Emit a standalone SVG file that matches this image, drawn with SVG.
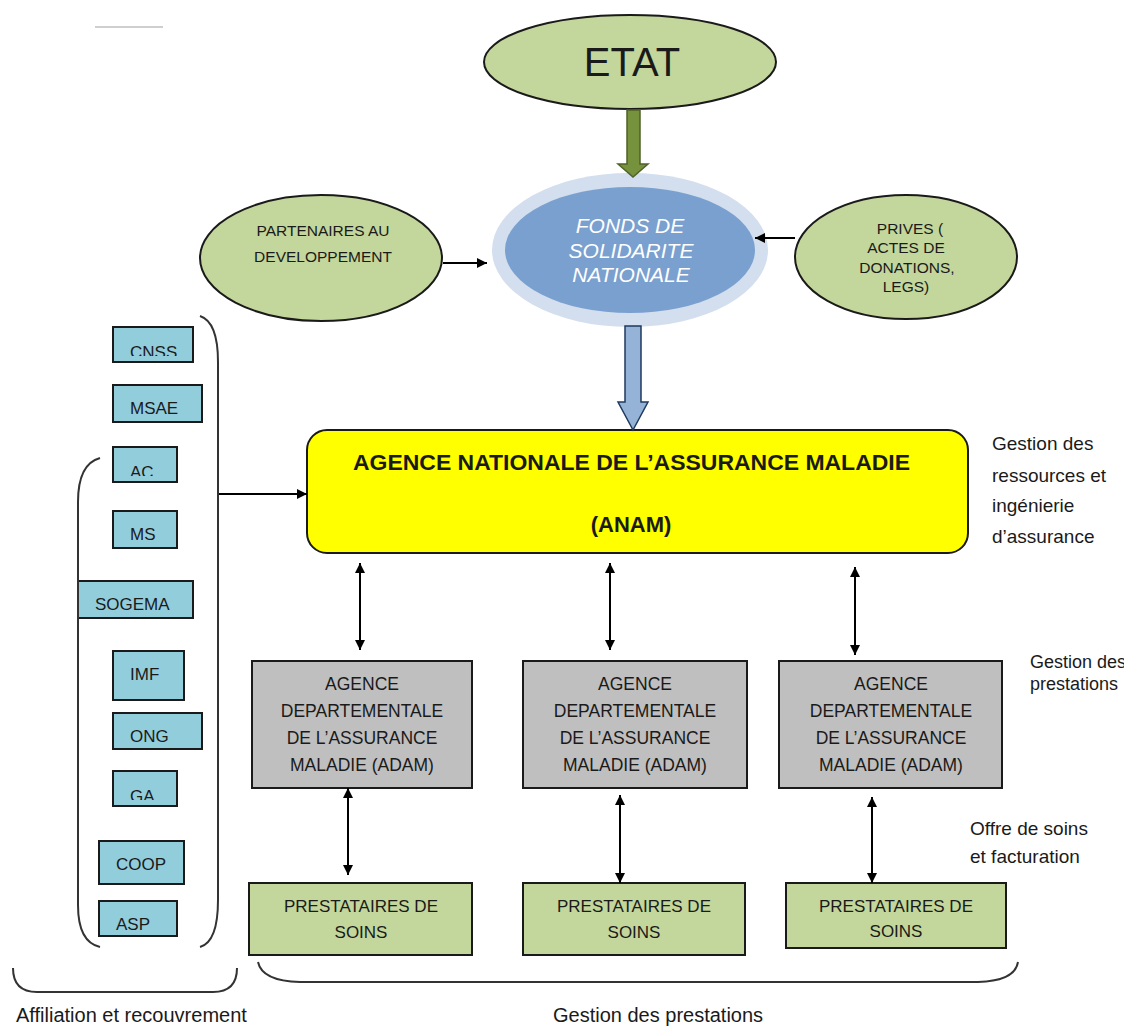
<svg xmlns="http://www.w3.org/2000/svg" width="1124" height="1027" viewBox="0 0 1124 1027">
<style>
.t{font-family:"Liberation Sans",Arial,sans-serif;fill:#1a1a1a}
.ell{fill:#c3d69b;stroke:#1a1a1a;stroke-width:2}
.lb{fill:#92cddc;stroke:#1a1a1a;stroke-width:2}
.adam{fill:#bfbfbf;stroke:#1a1a1a;stroke-width:2}
.pr{fill:#c3d69b;stroke:#1a1a1a;stroke-width:2}
.c{stroke:#000;stroke-width:2;fill:none}
.br{stroke:#333;stroke-width:2;fill:none}
</style>
<defs>
<marker id="ah" viewBox="0 0 10 10" refX="10" refY="5" markerWidth="10" markerHeight="10" markerUnits="userSpaceOnUse" orient="auto-start-reverse"><path d="M0,0 L10,5 L0,10 z" fill="#000"/></marker>
<clipPath id="cCNSS"><rect x="113" y="327" width="80" height="29"/></clipPath>
<clipPath id="cAC"><rect x="113" y="447" width="64" height="29"/></clipPath>
<clipPath id="cGA"><rect x="113" y="771" width="64" height="29"/></clipPath>
</defs>
<rect width="1124" height="1027" fill="#fff"/>
<line x1="95" y1="27" x2="163" y2="27" stroke="#cfcfcf" stroke-width="2"/>

<g id="etat">
<ellipse class="ell" cx="630" cy="62" rx="146" ry="47"/>
<text class="t" x="632" y="76" font-size="40" text-anchor="middle">ETAT</text>
</g>

<g id="fsn">
<ellipse cx="630" cy="250" rx="138" ry="77" fill="#d3deee"/>
<ellipse cx="630" cy="250" rx="125" ry="63" fill="#7aa0cf"/>
<g font-family="Liberation Sans,Arial,sans-serif" font-style="italic" font-size="21" fill="#fff" text-anchor="middle">
<text x="630" y="233">FONDS DE</text>
<text x="631" y="258">SOLIDARITE</text>
<text x="631" y="282">NATIONALE</text>
</g>
</g>

<g id="partenaires">
<ellipse class="ell" cx="321" cy="258" rx="121" ry="63"/>
<text class="t" x="323" y="236" font-size="15.5" text-anchor="middle">PARTENAIRES AU</text>
<text class="t" x="323" y="262" font-size="15.5" text-anchor="middle">DEVELOPPEMENT</text>
</g>

<g id="prives">
<ellipse class="ell" cx="906" cy="257" rx="111" ry="62"/>
<g class="t" font-size="15.5" text-anchor="middle">
<text x="910" y="234">PRIVES (</text>
<text x="906" y="253">ACTES DE</text>
<text x="907" y="273">DONATIONS,</text>
<text x="906" y="292">LEGS)</text>
</g>
</g>

<g id="anam">
<rect x="307" y="430" width="661" height="123" rx="20" fill="#ffff00" stroke="#1a1a1a" stroke-width="2"/>
<text class="t" x="353" y="470" font-size="22" font-weight="bold" textLength="557" lengthAdjust="spacingAndGlyphs">AGENCE NATIONALE DE L’ASSURANCE MALADIE</text>
<text class="t" x="631" y="532" font-size="22" font-weight="bold" text-anchor="middle">(ANAM)</text>
</g>

<g id="adam1">
<rect class="adam" x="252" y="661" width="220" height="127"/>
<g class="t" font-size="17.5" text-anchor="middle" fill="#333"><text x="362" y="690">AGENCE</text><text x="362" y="717">DEPARTEMENTALE</text><text x="362" y="744">DE L’ASSURANCE</text><text x="362" y="771">MALADIE (ADAM)</text></g>
</g>
<g id="adam2">
<rect class="adam" x="523" y="661" width="224" height="127"/>
<g class="t" font-size="17.5" text-anchor="middle" fill="#333"><text x="635" y="690">AGENCE</text><text x="635" y="717">DEPARTEMENTALE</text><text x="635" y="744">DE L’ASSURANCE</text><text x="635" y="771">MALADIE (ADAM)</text></g>
</g>
<g id="adam3">
<rect class="adam" x="779" y="661" width="223" height="127"/>
<g class="t" font-size="17.5" text-anchor="middle" fill="#333"><text x="891" y="690">AGENCE</text><text x="891" y="717">DEPARTEMENTALE</text><text x="891" y="744">DE L’ASSURANCE</text><text x="891" y="771">MALADIE (ADAM)</text></g>
</g>

<g id="prest1">
<rect class="pr" x="249" y="883" width="223" height="72"/>
<g class="t" font-size="17" text-anchor="middle" fill="#333"><text x="361" y="912">PRESTATAIRES DE</text><text x="361" y="938">SOINS</text></g>
</g>
<g id="prest2">
<rect class="pr" x="523" y="883" width="222" height="72"/>
<g class="t" font-size="17" text-anchor="middle" fill="#333"><text x="634" y="912">PRESTATAIRES DE</text><text x="634" y="938">SOINS</text></g>
</g>
<g id="prest3">
<rect class="pr" x="786" y="883" width="220" height="65"/>
<g class="t" font-size="17" text-anchor="middle" fill="#333"><text x="896" y="912">PRESTATAIRES DE</text><text x="896" y="937">SOINS</text></g>
</g>

<g id="cnss"><rect class="lb" x="113" y="327" width="80" height="35"/><text class="t" x="130" y="358" font-size="17" clip-path="url(#cCNSS)">CNSS</text></g>
<g id="msae"><rect class="lb" x="113" y="385" width="89" height="37"/><text class="t" x="130" y="414" font-size="17">MSAE</text></g>
<g id="ac"><rect class="lb" x="113" y="447" width="64" height="35"/><text class="t" x="130" y="478" font-size="17" clip-path="url(#cAC)">AC</text></g>
<g id="ms"><rect class="lb" x="113" y="511" width="64" height="37"/><text class="t" x="130" y="540" font-size="17">MS</text></g>
<g id="sogema"><rect class="lb" x="78" y="581" width="115" height="37"/><text class="t" x="95" y="610" font-size="17">SOGEMA</text></g>
<g id="imf"><rect class="lb" x="113" y="651" width="71" height="49"/><text class="t" x="130" y="680" font-size="17">IMF</text></g>
<g id="ong"><rect class="lb" x="113" y="713" width="89" height="36"/><text class="t" x="130" y="742" font-size="17">ONG</text></g>
<g id="ga"><rect class="lb" x="113" y="771" width="64" height="35"/><text class="t" x="130" y="802" font-size="17" clip-path="url(#cGA)">GA</text></g>
<g id="coop"><rect class="lb" x="99" y="841" width="85" height="43"/><text class="t" x="116" y="870" font-size="17">COOP</text></g>
<g id="asp"><rect class="lb" x="99" y="901" width="78" height="35"/><text class="t" x="116" y="930" font-size="17">ASP</text></g>

<g id="labels" class="t">
<g font-size="19"><text x="992" y="450">Gestion des</text><text x="992" y="482">ressources et</text><text x="992" y="512">ingénierie</text><text x="992" y="543">d’assurance</text></g>
<g font-size="18"><text x="1030" y="668">Gestion des</text><text x="1030" y="690">prestations</text></g>
<g font-size="19"><text x="970" y="835">Offre de soins</text><text x="970" y="863">et facturation</text></g>
<text x="16" y="1022" font-size="20">Affiliation et recouvrement</text>
<text x="553" y="1022" font-size="20">Gestion des prestations</text>
</g>

<g id="connectors">
<polygon points="627,110 640,110 640,164 648,164 633,177 618,164 627,164" fill="#76923c" stroke="#4f6228" stroke-width="1.5"/>
<polygon points="625,326 641,326 641,402 648,402 633,430 618,402 625,402" fill="#95b3d7" stroke="#1f3a5f" stroke-width="1.5"/>
<path class="c" d="M443,263 L487,263" marker-end="url(#ah)"/>
<path class="c" d="M795,238 L755,238" marker-end="url(#ah)"/>
<path class="c" d="M218,494 L307,494" marker-end="url(#ah)"/>
<path class="c" d="M360,563 L360,650" marker-start="url(#ah)" marker-end="url(#ah)"/>
<path class="c" d="M610,563 L610,650" marker-start="url(#ah)" marker-end="url(#ah)"/>
<path class="c" d="M855,567 L855,655" marker-start="url(#ah)" marker-end="url(#ah)"/>
<path class="c" d="M348,788 L348,875" marker-start="url(#ah)" marker-end="url(#ah)"/>
<path class="c" d="M620,795 L620,883" marker-start="url(#ah)" marker-end="url(#ah)"/>
<path class="c" d="M872,797 L872,883" marker-start="url(#ah)" marker-end="url(#ah)"/>
<path class="br" d="M200,316 Q218,322 218,362 L218,900 Q218,942 200,947"/>
<path class="br" d="M100,458 Q78,464 78,502 L78,905 Q78,942 100,947"/>
<path class="br" d="M13,968 Q13,992 37,992 L213,992 Q237,992 237,968"/>
<path class="br" d="M258,962 Q262,981 300,982 L978,982 Q1015,981 1018,962"/>
</g>
</svg>
